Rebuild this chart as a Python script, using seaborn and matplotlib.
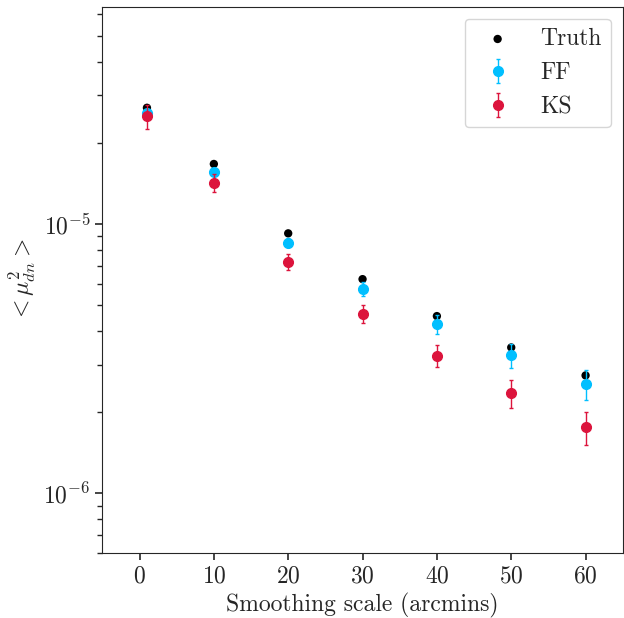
import numpy as np
import matplotlib
matplotlib.use("Agg")
import matplotlib.pyplot as plt
from matplotlib.ticker import LogLocator, NullFormatter
import seaborn as sns

# smoothing scales (arcmins)
scales = [1, 10, 20, 30, 40, 50, 60]

# <mu_dn^2> values
truth = [2.70e-5, 1.67e-5, 9.23e-6, 6.24e-6, 4.55e-6, 3.48e-6, 2.74e-6]
ff = [2.58e-5, 1.565e-5, 8.52e-6, 5.76e-6, 4.24e-6, 3.25e-6, 2.55e-6]
ff_err = [0.35e-6, 0.34e-6, 0.33e-6, 0.35e-6, 0.34e-6, 0.33e-6, 0.33e-6]
ks = [2.51e-5, 1.425e-5, 7.24e-6, 4.65e-6, 3.24e-6, 2.36e-6, 1.76e-6]
ks_err = [2.5e-6, 1.1e-6, 0.5e-6, 0.35e-6, 0.30e-6, 0.28e-6, 0.25e-6]

sns.set_style("ticks")
plt.rcParams['font.family'] = ['cmr10', 'DejaVu Serif']
plt.rcParams['mathtext.fontset'] = 'cm'
plt.rcParams['axes.formatter.use_mathtext'] = True
plt.rcParams['axes.unicode_minus'] = False

fig = plt.figure(figsize=(6.24, 6.18), dpi=100)
ax = fig.add_axes([0.164, 0.105, 0.834, 0.884])

sns.scatterplot(x=scales, y=truth, color='black', s=36, edgecolor='none',
                label='Truth', ax=ax, zorder=2)
ax.errorbar(scales, ff, yerr=ff_err, fmt='o', color='deepskyblue', ms=7,
            capsize=1.5, elinewidth=1, label='FF', zorder=3)
ax.errorbar(scales, ks, yerr=ks_err, fmt='o', color='crimson', ms=7,
            capsize=1.5, elinewidth=1, label='KS', zorder=4)

ax.set_yscale('log')
ax.set_xlim(-5, 65)
ax.set_ylim(6e-7, 6.4e-5)
ax.set_xticks([0, 10, 20, 30, 40, 50, 60])
ax.yaxis.set_minor_locator(LogLocator(base=10, subs=np.arange(2, 10) * 1.0, numticks=30))
ax.yaxis.set_minor_formatter(NullFormatter())
ax.tick_params(labelsize=17, length=5, width=1.2)
ax.yaxis.set_tick_params(which='minor', length=3.5, width=1, left=True)
ax.set_xlabel('Smoothing scale (arcmins)', fontsize=17)
ax.set_ylabel(r'$<\mu_{dn}^2>$', fontsize=17)

ax.legend(loc='upper right', fontsize=17, frameon=True)

fig.savefig('out.png', dpi=100)
